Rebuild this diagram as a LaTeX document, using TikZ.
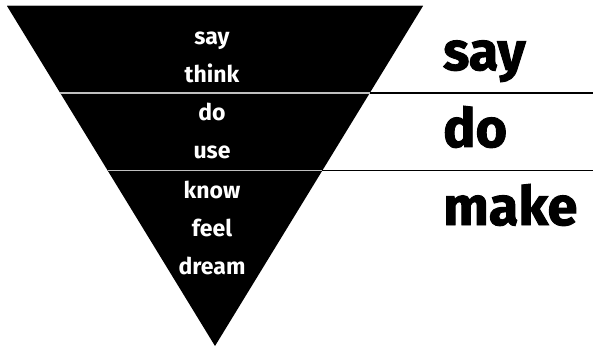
\documentclass[tikz,border=0pt]{standalone}
\usepackage{fontspec}
\setmainfont{Fira Sans}
\newfontfamily\heavyfont{Fira Sans}[BoldFeatures={FakeBold=1.8}]
\usetikzlibrary{calc}

\begin{document}
\begin{tikzpicture}[x=1pt, y=-1pt,
  inword/.style={text=white, font=\bfseries\fontsize{23}{23}\selectfont, anchor=base, inner sep=0pt},
  outword/.style={text=black, font=\heavyfont\bfseries\fontsize{54}{54}\selectfont, anchor=base west, inner sep=0pt},
  split/.style={line width=1.5pt, black!25},
  rule/.style={line width=1.5pt, black}]
\useasboundingbox (0,0) rectangle (593,347);
% funnel
\coordinate (tl) at (7,6);
\coordinate (tr) at (423,6);
\coordinate (ap) at (215,346);
\fill[black] (tl) -- (tr) -- (ap) -- cycle;
\draw[line width=1pt, black!30] (tl) -- (tr);
% level borders
\coordinate (l1) at ($(tl)!0.256!(ap)$);
\coordinate (r1) at ($(tr)!0.256!(ap)$);
\coordinate (l2) at ($(tl)!0.484!(ap)$);
\coordinate (r2) at ($(tr)!0.484!(ap)$);
\coordinate (e1) at (593,0 |- l1);
\coordinate (e2) at (593,0 |- l2);
\draw[split] (l1) -- (r1);
\draw[split] (l2) -- (r2);
\draw[rule] (r1) -- (e1);
\draw[rule] (r2) -- (e2);
% words inside
\node[inword] (say) at (212,45) {say};
\node[inword] (think) at (212,83) {think};
\node[inword] (do) at (212,121) {do};
\node[inword] (use) at (212,159) {use};
\node[inword] (know) at (212,198) {know};
\node[inword] (feel) at (212,236) {feel};
\node[inword] (dream) at (212,274) {dream};
% words outside
\node[outword] (saylev) at (443,70) {say};
\node[outword] (dolev) at (443,147) {do};
\node[outword] (makelev) at (443,225) {make};
\end{tikzpicture}
\end{document}
